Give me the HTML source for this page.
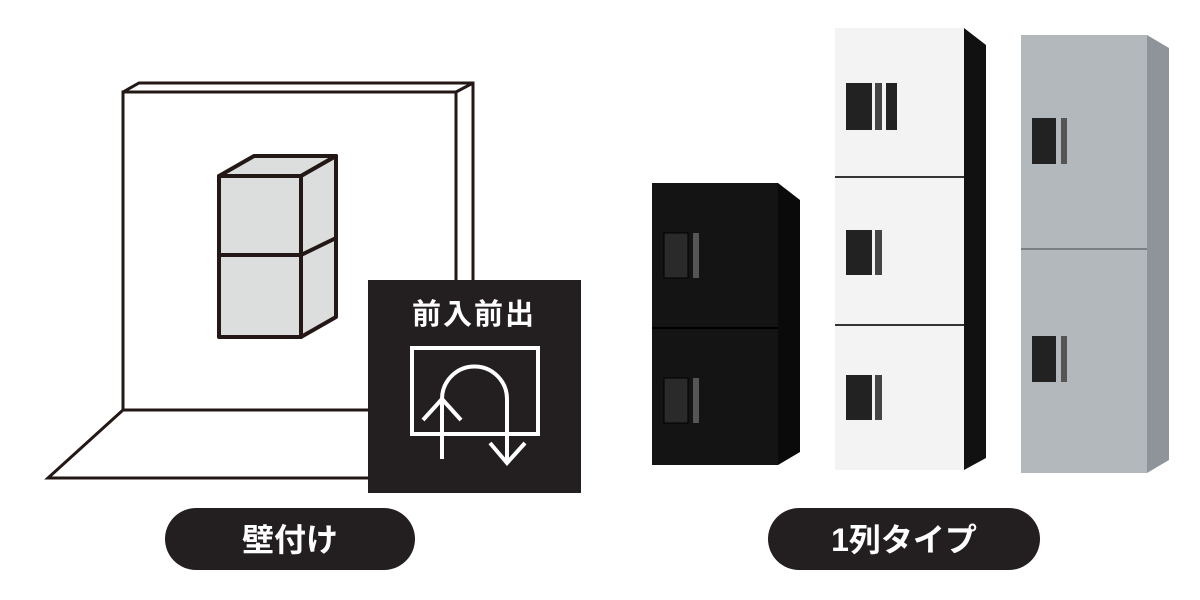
<!DOCTYPE html>
<html><head><meta charset="utf-8"><style>
body{margin:0;width:1200px;height:600px;background:#fff;overflow:hidden}
svg{position:absolute;left:0;top:0}
</style></head><body>
<svg width="1200" height="600" viewBox="0 0 1200 600" xmlns="http://www.w3.org/2000/svg">
<g fill="none" stroke="#231815" stroke-width="3" stroke-linejoin="miter">
<polygon points="123,92 456,92 456,410 123,410" fill="#fff"/>
<polyline points="123,92 139,83 473,83 473,396 456,410"/>
<line x1="456" y1="92" x2="473" y2="83"/>
<polygon points="123,410 456,410 420,478 48,478" fill="#fff"/>
</g>
<g stroke="#231815" stroke-width="4" stroke-linejoin="round" fill="#dcdddd">
<polygon points="219,176 254,156 336,156 301,176"/>
<polygon points="301,176 336,156 336,317 301,337"/>
<rect x="219" y="176" width="82" height="161"/>
<line x1="219" y1="255" x2="301" y2="255"/>
<line x1="301" y1="255" x2="336" y2="238"/>
</g>
<rect x="368" y="280" width="213" height="213" fill="#231f20"/>
<text x="474" y="324" fill="#fff" font-family="Liberation Sans,'Noto Sans CJK JP',sans-serif" font-weight="bold" font-size="29" text-anchor="middle" letter-spacing="2">前入前出</text>
<g stroke="#fff" stroke-width="4" fill="none">
<rect x="412" y="348" width="126" height="86"/>
<path d="M442,459 L442,399 A32.5,32.5 0 0 1 507,399 L507,463"/>
<polyline points="423,420 442,399 461,420"/>
<polyline points="490,443 507,463 525,443"/>
</g>
<!-- black cabinet -->
<polygon points="778,183 800,200 800,452 778,465" fill="#0a0a0a"/>
<rect x="652" y="183" width="126" height="282" fill="#141414"/>
<line x1="652" y1="328" x2="778" y2="328" stroke="#000" stroke-width="2"/>
<rect x="664" y="233" width="24" height="45" fill="#2a2a2a" stroke="#000"/>
<rect x="693" y="233" width="6" height="45" fill="#555"/>
<rect x="664" y="378" width="24" height="45" fill="#2a2a2a" stroke="#000"/>
<rect x="693" y="378" width="6" height="45" fill="#555"/>
<!-- white cabinet -->
<polygon points="964,28 986,45 986,458 964,470" fill="#111"/>
<rect x="835" y="28" width="129" height="442" fill="#f3f3f3"/>
<line x1="835" y1="177" x2="964" y2="177" stroke="#333" stroke-width="2"/>
<line x1="835" y1="325" x2="964" y2="325" stroke="#333" stroke-width="2"/>
<rect x="846" y="83" width="26" height="47" fill="#222"/>
<rect x="875" y="83" width="7" height="47" fill="#444"/>
<rect x="886" y="83" width="11" height="47" fill="#222"/>
<rect x="846" y="230" width="26" height="45" fill="#222"/>
<rect x="875" y="230" width="7" height="45" fill="#444"/>
<rect x="846" y="375" width="26" height="45" fill="#222"/>
<rect x="875" y="375" width="7" height="45" fill="#444"/>
<!-- silver -->
<polygon points="1147,35 1169,48 1169,460 1147,473" fill="#8e949a"/>
<rect x="1021" y="35" width="126" height="438" fill="#b3b8bd"/>
<line x1="1021" y1="249" x2="1147" y2="249" stroke="#7a7f84" stroke-width="2"/>
<rect x="1032" y="118" width="24" height="46" fill="#222"/>
<rect x="1061" y="118" width="6" height="46" fill="#555"/>
<rect x="1032" y="336" width="24" height="46" fill="#222"/>
<rect x="1061" y="336" width="6" height="46" fill="#555"/>
<!-- pills -->
<rect x="165" y="508" width="250" height="62" rx="31" fill="#231f20"/>
<text x="290" y="551" fill="#fff" font-family="Liberation Sans,'Noto Sans CJK JP',sans-serif" font-weight="bold" font-size="32" text-anchor="middle">壁付け</text>
<rect x="768" y="508" width="272" height="62" rx="31" fill="#231f20"/>
<text x="904" y="551" fill="#fff" font-family="Liberation Sans,'Noto Sans CJK JP',sans-serif" font-weight="bold" font-size="32" text-anchor="middle">1列タイプ</text>
</svg>
</body></html>
